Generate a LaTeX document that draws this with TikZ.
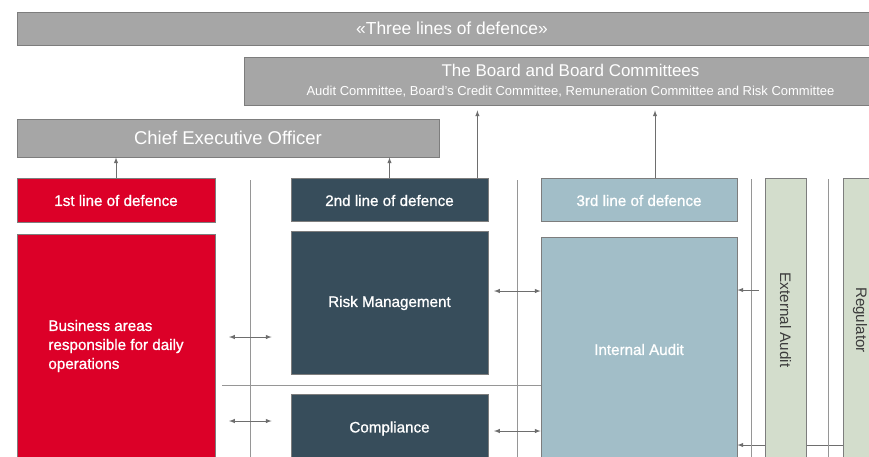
\documentclass[tikz,border=0pt]{standalone}
\usepackage{fontspec}
\setmainfont{Liberation Sans}
\newfontfamily\semibold{Liberation Sans}[FakeBold=1]
\usepackage{graphicx}
\usepackage{tikz}
\usetikzlibrary{shapes,arrows}
\usetikzlibrary{positioning,backgrounds}
\definecolor{dbred}{RGB}{220,0,40}
\definecolor{dbslate}{RGB}{55,77,91}
\definecolor{dbblue}{RGB}{162,190,200}
\definecolor{dbgreen}{RGB}{211,221,204}
\definecolor{dbgrey}{RGB}{166,166,166}
\definecolor{dbedge}{RGB}{125,125,125}
\definecolor{dbline}{RGB}{150,150,150}
\definecolor{dbarrow}{RGB}{110,110,110}
\definecolor{dbtext}{RGB}{60,60,60}
\tikzstyle{panel} = [draw=dbedge, line width=0.8pt, inner sep=0pt, text=white,
    font=\semibold\fontsize{15.2}{19}\selectfont]
\tikzstyle{head} = [panel, fill=dbgrey, font=\rmfamily]
\tikzstyle{first} = [panel, fill=dbred, minimum width=198pt]
\tikzstyle{second} = [panel, fill=dbslate, minimum width=197pt]
\tikzstyle{third} = [panel, fill=dbblue, minimum width=196pt]
\tikzstyle{outside} = [panel, fill=dbgreen, text=dbtext, minimum height=284pt,
    font=\rmfamily\fontsize{15.2}{19}\selectfont]
\tikzstyle{link} = [-latex, dbarrow, line width=1pt]
\tikzstyle{twoway} = [latex-latex, dbarrow, line width=1pt]
\tikzstyle{sep} = [dbline, line width=1pt]

\begin{document}
\begin{tikzpicture}[x=1pt, y=-1pt, node distance = 146pt]
  \useasboundingbox (0,0) rectangle (869,456);
  \clip (0,0) rectangle (869,456);
  \node [head, minimum width=870pt, minimum height=33pt,
    font=\fontsize{17.4}{20}\selectfont] (tld) at (452,28.5) {«Three lines of defence»};
  \node [head, minimum width=653pt, minimum height=48pt, align=center,
    font=\fontsize{13}{19}\selectfont] (brd) at (570.5,81)
    {{\fontsize{17}{19}\selectfont The Board and Board Committees}\\
     Audit Committee, Board’s Credit Committee, Remuneration Committee and Risk Committee};
  \node [head, minimum width=422pt, minimum height=38pt,
    font=\fontsize{18.5}{22}\selectfont] (ceo) at (228,138) {Chief Executive Officer};
  \node [first, minimum height=44pt, text height=12pt] (l1) at (116,200) {1st line of defence};
  \node [second, minimum height=43pt, text height=12pt, right of=l1, node distance=273.5pt] (l2) {2nd line of defence};
  \node [third, minimum height=43pt, text height=12pt, right of=l2, node distance=249.5pt] (l3) {3rd line of defence};
  \node [first, minimum height=224pt, align=left, below of=l1] (biz)
    {Business areas\\responsible for daily\\operations};
  \node [second, minimum height=143pt, below of=l2, node distance=103pt] (risk) {Risk Management};
  \node [second, minimum height=68pt, below of=risk, node distance=125.5pt] (comp) {Compliance};
  \node [third, minimum height=224pt, below of=l3, node distance=149.5pt] (ia) {Internal Audit};
  \node [outside, minimum width=41pt] (ext) at (785.5,320) {\rotatebox{-90}{External Audit}};
  \node [outside, minimum width=34pt, right of=ext, node distance=74.5pt] (reg) {\rotatebox{-90}{Regulator}};
  % separators
  \draw [sep] (250,180) -- (250,470);
  \draw [sep] (517,180) -- (517,470);
  \draw [sep] (751,179) -- (751,470);
  \draw [sep] (828,179) -- (828,470);
  \draw [sep] (222,385) -- (541,385);
  % reporting lines
  \draw [link] (l1.north) -- (l1.north |- ceo.south);
  \draw [link] (l2.north) -- (l2.north |- ceo.south);
  \coordinate (b2) at ([xshift=-11pt]l2.north east);
  \coordinate (b3) at ([xshift=16pt]l3.north);
  \draw [link, shorten >=5pt] (b2) -- (b2 |- brd.south);
  \draw [link, shorten >=5pt] (b3) -- (b3 |- brd.south);
  % exchange between the lines
  \coordinate (x1) at (229,337);
  \coordinate (x2) at (229,421);
  \draw [twoway, shorten >=19pt] (x1) -- (x1 -| risk.west);
  \draw [twoway, shorten >=19pt] (x2) -- (x2 -| comp.west);
  \coordinate (y1) at (494,291);
  \coordinate (y2) at (494,431);
  \draw [twoway] (y1) -- (y1 -| ia.west);
  \draw [twoway] (y2) -- (y2 -| ia.west);
  \coordinate (e1) at (759,290);
  \draw [link] (e1) -- (e1 -| ia.east);
  \path (reg.west) ++(0,125) coordinate (r1);
  \begin{scope}[on background layer]
    \draw [link] (r1) -- (r1 -| ia.east);
  \end{scope}
\end{tikzpicture}
\end{document}
